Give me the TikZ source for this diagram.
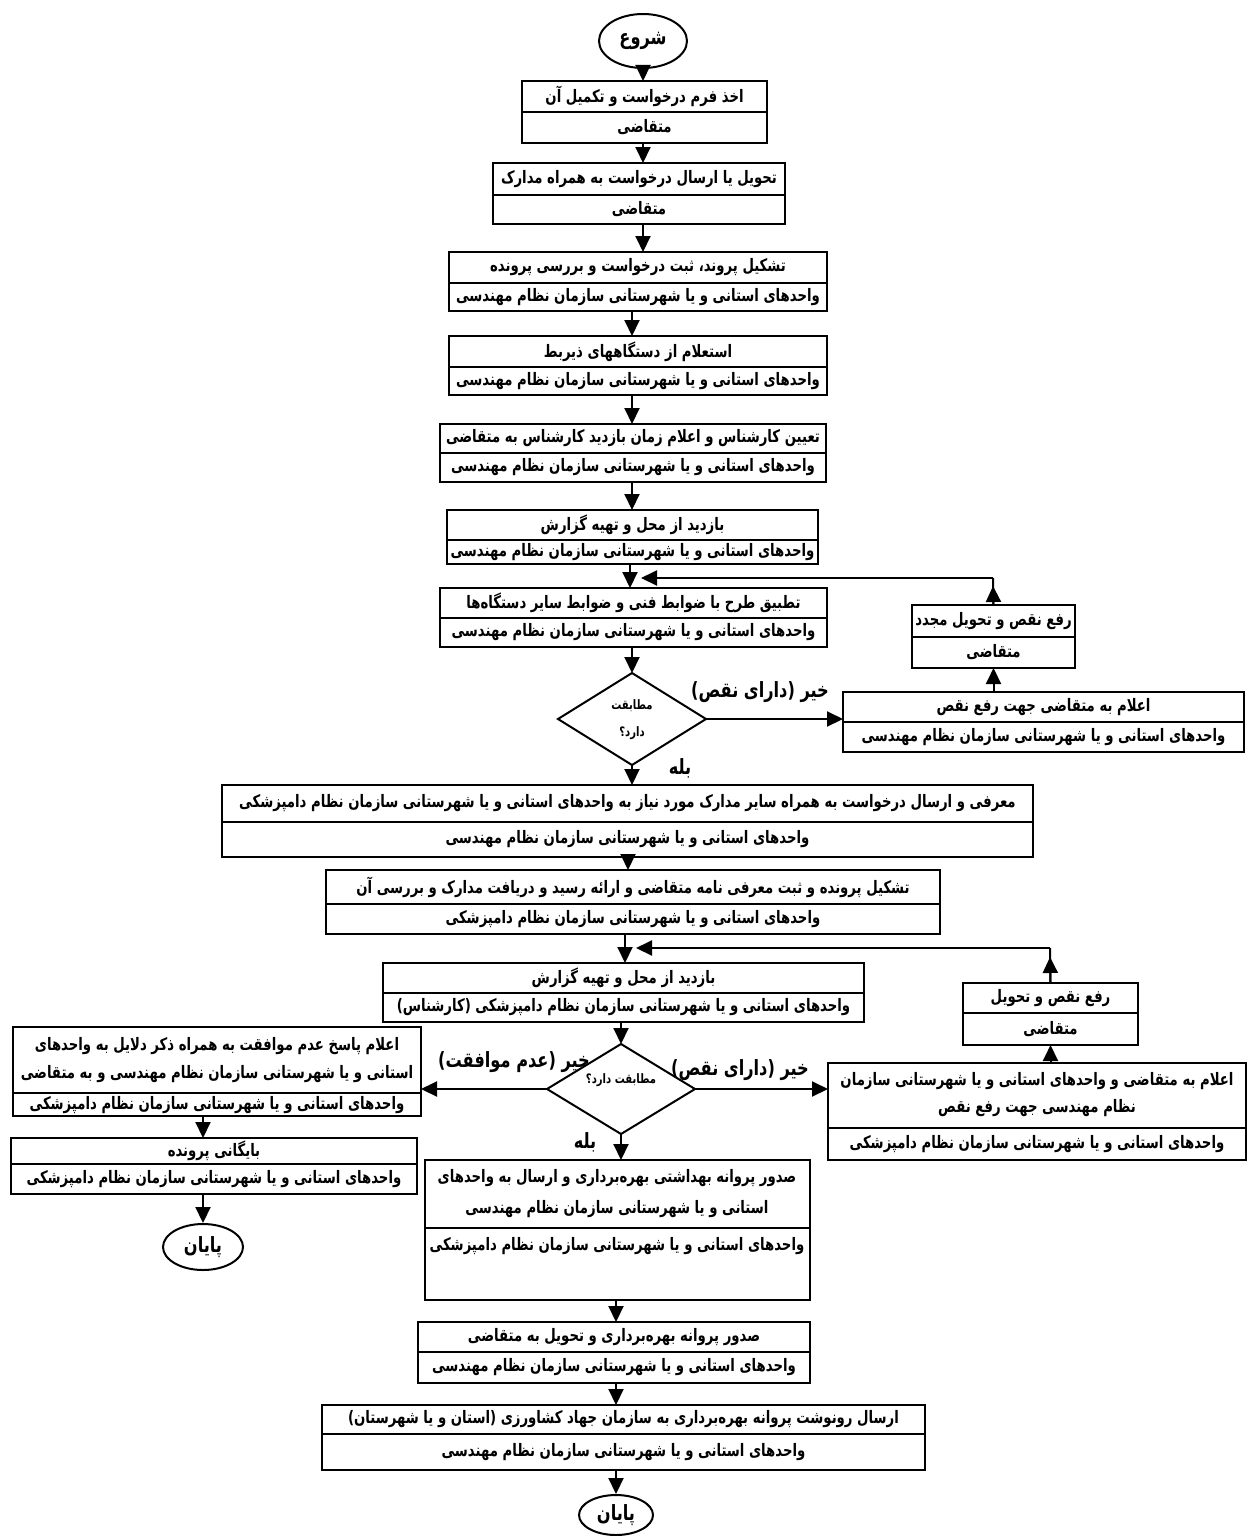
\documentclass[tikz,border=0pt]{standalone}
\usepackage{fontspec}
\newfontfamily\fa[Script=Arabic,FakeStretch=0.77]{DejaVu Sans}
\TeXXeTstate=1
\usetikzlibrary{shapes.geometric,arrows.meta}
\tikzset{
  bx/.style={draw,line width=1.1pt,inner sep=0pt,outer sep=0pt},
  bxl/.style={line width=0.9pt},
  tx/.style={font=\fa\bfseries\fontsize{8.6}{10}\selectfont,inner sep=0pt},
  lbl/.style={font=\fa\bfseries\fontsize{10.5}{12}\selectfont,inner sep=0pt},
  dtx/.style={font=\fa\bfseries\fontsize{6.5}{7}\selectfont,inner sep=0pt},
  term/.style={draw,ellipse,line width=1pt,inner sep=0pt,font=\fa\bfseries\fontsize{10.5}{12}\selectfont},
  dia/.style={draw,diamond,line width=1pt,inner sep=0pt,outer sep=0pt},
  ln/.style={line width=1pt},
  arr/.style={line width=1pt,-{Triangle[length=8pt,width=7.5pt]}},
}
\newcommand\flowframe[6]{%
  \pgfmathsetmacro\fbw{(#3-#2)*0.5}%
  \pgfmathsetmacro\fbh{(#5-#4)*0.5}%
  \node[bx,minimum width=\fbw pt,minimum height=\fbh pt] (#1) at ({(#2+#3)/2},{(#4+#5)/2}) {};%
  \draw[bxl] (#2,#6) -- (#3,#6);}
\newcommand\flowbox[8]{%
  \flowframe{#1}{#2}{#3}{#4}{#5}{#6}%
  \node[tx] at ({(#2+#3)/2},{(#4+#6)/2}) {#7};%
  \node[tx] at ({(#2+#3)/2},{(#6+#5)/2}) {#8};}
\begin{document}
\begin{tikzpicture}[x=0.5pt,y=-0.5pt]
\useasboundingbox[fill=white] (0,0) rectangle (1248,1536);

% column coordinates
\coordinate (m1) at (643,0);
\coordinate (m2) at (632,0);
\coordinate (m3) at (628,0);
\coordinate (m4) at (616,0);
\coordinate (m5) at (203,0);
\coordinate (j1) at (630,578);
\coordinate (j1r) at (641,578);
\coordinate (r1) at (993,578);
\coordinate (r1b) at (993,586);
\coordinate (j2) at (625,948);
\coordinate (j2r) at (636,948);
\coordinate (r2) at (1050,948);
\coordinate (r2b) at (1050,957);

% start
\node[term,minimum width=44pt,minimum height=27pt] (start) at (643,41) {\beginR شروع\endR};

\flowbox{b1}{522}{767}{81}{143}{112}{\beginR اخذ فرم درخواست و تکمیل آن\endR}{\beginR متقاضی\endR}
\flowbox{b2}{493}{785}{163}{224}{195}{\beginR تحویل یا ارسال درخواست به همراه مدارک\endR}{\beginR متقاضی\endR}
\flowbox{b3}{449}{827}{252}{311}{283}{\beginR تشکیل پروند، ثبت درخواست و  بررسی پرونده\endR}{\beginR واحدهای استانی و یا شهرستانی سازمان نظام مهندسی\endR}
\flowbox{b4}{449}{827}{336}{395}{367}{\beginR استعلام از دستگاههای ذیربط\endR}{\beginR واحدهای استانی و یا شهرستانی سازمان نظام مهندسی\endR}
\flowbox{b5}{440}{826}{424}{482}{453}{\beginR تعیین کارشناس و اعلام زمان بازدید کارشناس به متقاضی\endR}{\beginR واحدهای استانی و یا شهرستانی سازمان نظام مهندسی\endR}
\flowbox{b6}{447}{818}{510}{564}{540}{\beginR بازدید از محل و تهیه گزارش\endR}{\beginR واحدهای استانی و یا شهرستانی سازمان نظام مهندسی\endR}
\flowbox{b7}{440}{827}{588}{647}{618}{\beginR تطبیق طرح با ضوابط فنی و ضوابط سایر دستگاه‌ها\endR}{\beginR واحدهای استانی و یا شهرستانی سازمان نظام مهندسی\endR}

\node[dia,minimum width=74pt,minimum height=46pt] (d1) at (632,719) {};
\node[dtx] at (632,706) {\beginR مطابقت\endR};
\node[dtx] at (632,733) {\beginR دارد؟\endR};

\flowbox{b8}{843}{1244}{692}{752}{722}{\beginR اعلام به متقاضی جهت رفع نقص\endR}{\beginR واحدهای استانی و یا شهرستانی سازمان نظام مهندسی\endR}
\flowbox{b9}{912}{1075}{605}{668}{637}{\beginR رفع نقص و تحویل مجدد\endR}{\beginR متقاضی\endR}

\node[lbl] at (760,692) {\beginR خیر (دارای نقص)\endR};
\node[lbl] at (680,768) {\beginR بله\endR};

\flowbox{b10}{222}{1033}{785}{857}{822}{\beginR معرفی و ارسال درخواست  به همراه سایر مدارک مورد نیاز به واحدهای استانی و یا شهرستانی سازمان نظام دامپزشکی\endR}{\beginR واحدهای استانی و یا شهرستانی سازمان نظام مهندسی\endR}
\flowbox{b11}{326}{940}{870}{934}{904}{\beginR تشکیل پرونده و ثبت معرفی نامه متقاضی و ارائه رسید و  دریافت مدارک و بررسی آن\endR}{\beginR واحدهای استانی و یا شهرستانی سازمان نظام دامپزشکی\endR}
\flowbox{b12}{383}{864}{963}{1022}{993}{\beginR بازدید از محل و تهیه گزارش\endR}{\beginR واحدهای استانی و یا شهرستانی سازمان نظام دامپزشکی (کارشناس)\endR}

\node[dia,minimum width=74pt,minimum height=45pt] (d2) at (621,1089) {};
\node[dtx] at (621,1080) {\beginR مطابقت دارد؟\endR};

\node[lbl] at (514,1062) {\beginR خیر (عدم موافقت)\endR};
\node[lbl] at (740,1070) {\beginR خیر (دارای نقص)\endR};
\node[lbl] at (585,1142) {\beginR بله\endR};

% left branch
\flowframe{b13}{13}{421}{1027}{1116}{1093}
\node[tx] at (217,1046) {\beginR اعلام پاسخ عدم موافقت به همراه ذکر دلایل به واحدهای\endR};
\node[tx] at (217,1074) {\beginR استانی و یا شهرستانی سازمان نظام مهندسی و  به متقاضی\endR};
\node[tx] at (217,1105) {\beginR واحدهای استانی و یا شهرستانی سازمان نظام دامپزشکی\endR};
\flowbox{b13b}{11}{417}{1138}{1194}{1164}{\beginR بایگانی پرونده\endR}{\beginR واحدهای استانی و یا شهرستانی سازمان نظام دامپزشکی\endR}
\node[term,minimum width=40pt,minimum height=23pt] (end1) at (203,1247) {\beginR پایان\endR};

% right branch
\flowframe{b14}{828}{1246}{1063}{1160}{1128}
\node[tx] at (1037,1081) {\beginR اعلام به متقاضی  و واحدهای استانی و یا شهرستانی سازمان\endR};
\node[tx] at (1037,1108) {\beginR نظام مهندسی  جهت رفع نقص\endR};
\node[tx] at (1037,1144) {\beginR واحدهای استانی و یا شهرستانی سازمان نظام دامپزشکی\endR};
\flowbox{b18}{963}{1138}{983}{1045}{1013}{\beginR رفع نقص و تحویل\endR}{\beginR متقاضی\endR}

% bottom chain
\flowframe{b15}{425}{810}{1160}{1300}{1228}
\node[tx] at (617,1178) {\beginR صدور پروانه بهداشتی بهره‌برداری و ارسال به واحدهای\endR};
\node[tx] at (617,1209) {\beginR استانی و یا شهرستانی سازمان نظام مهندسی\endR};
\node[tx] at (617,1246) {\beginR واحدهای استانی و یا شهرستانی سازمان نظام دامپزشکی\endR};
\flowbox{b16}{418}{810}{1322}{1383}{1352}{\beginR صدور پروانه بهره‌برداری و تحویل به متقاضی\endR}{\beginR واحدهای استانی و یا شهرستانی سازمان نظام مهندسی\endR}
\flowbox{b17}{322}{925}{1405}{1470}{1434}{\beginR ارسال رونوشت پروانه بهره‌برداری به سازمان جهاد کشاورزی (استان و یا شهرستان)\endR}{\beginR واحدهای استانی و یا شهرستانی سازمان نظام مهندسی\endR}
\node[term,minimum width=37pt,minimum height=20pt] (end2) at (616,1515) {\beginR پایان\endR};

% connectors main
\draw[arr] (start.south -| m1) -- (b1.north -| m1);
\draw[arr] (b1.south -| m1) -- (b2.north -| m1);
\draw[arr] (b2.south -| m1) -- (b3.north -| m1);
\draw[arr] (b3.south -| m2) -- (b4.north -| m2);
\draw[arr] (b4.south -| m2) -- (b5.north -| m2);
\draw[arr] (b5.south -| m2) -- (b6.north -| m2);
\draw[arr] (b6.south -| j1) -- (b7.north -| j1);
\draw[arr] (b7.south -| d1) -- (d1.north);
\draw[arr] (d1.east) -- (b8.west |- d1.east);
\draw[arr] (b8.north -| b9.south) -- (b9.south);
\draw[ln] (b9.north) -- (r1);
\draw[arr] (b9.north) -- (r1b);
\draw[arr] (r1) -- (j1r);
\draw[arr] (d1.south) -- (b10.north -| d1.south);
\draw[arr] (b10.south -| m3) -- (b11.north -| m3);
\draw[arr] (b11.south -| j2) -- (b12.north -| j2);
\draw[arr] (b12.south -| d2) -- (d2.north);
\draw[arr] (d2.west) -- (b13.east |- d2.west);
\draw[arr] (d2.east) -- (b14.west |- d2.east);
\draw[arr] (b14.north -| b18.south) -- (b18.south);
\draw[ln] (b18.north) -- (r2);
\draw[arr] (b18.north) -- (r2b);
\draw[arr] (r2) -- (j2r);
\draw[arr] (d2.south) -- (b15.north -| d2.south);
\draw[arr] (b13.south -| m5) -- (b13b.north -| m5);
\draw[arr] (b13b.south -| end1) -- (end1.north);
\draw[arr] (b15.south -| m4) -- (b16.north -| m4);
\draw[arr] (b16.south -| m4) -- (b17.north -| m4);
\draw[arr] (b17.south -| end2) -- (end2.north);
\end{tikzpicture}
\end{document}
